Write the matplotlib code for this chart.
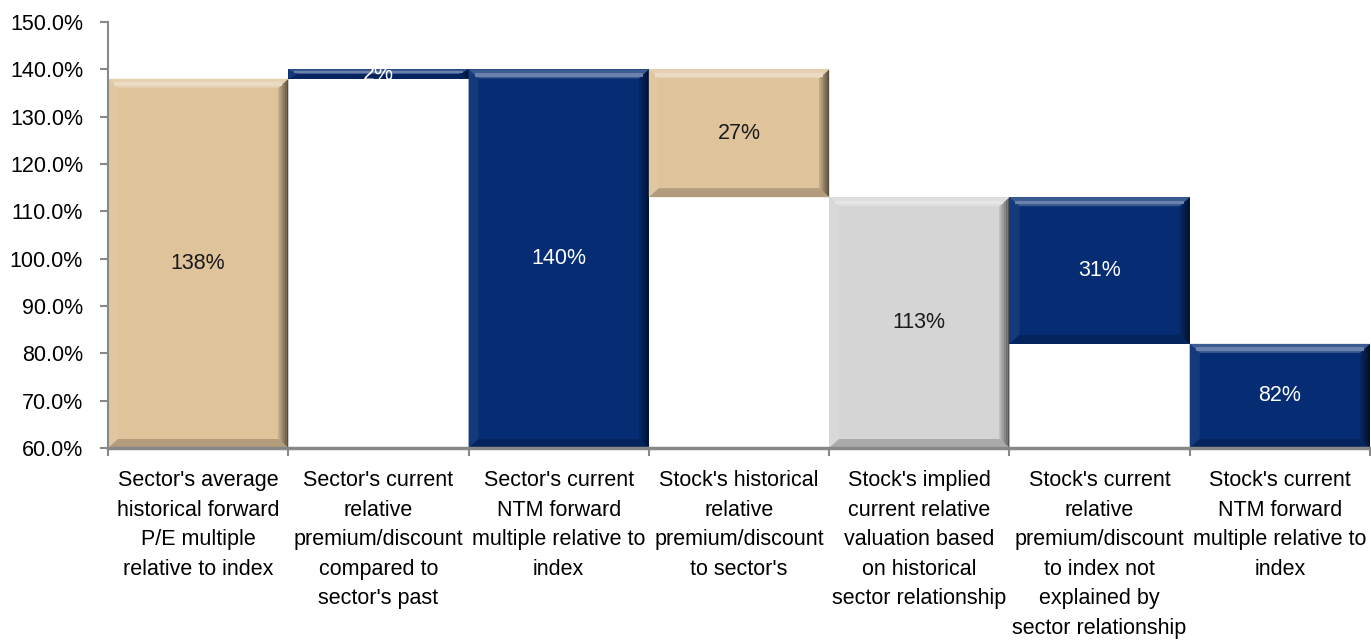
import matplotlib.pyplot as plt
import matplotlib.colors as mcolors
from matplotlib.patches import Polygon, Rectangle
import numpy as np

plt.rcParams['font.family'] = ['Liberation Sans', 'DejaVu Sans']

# data
categories = [
    "Sector's average\nhistorical forward\nP/E multiple\nrelative to index",
    "Sector's current\nrelative\npremium/discount\ncompared to\nsector's past",
    "Sector's current\nNTM forward\nmultiple relative to\nindex",
    "Stock's historical\nrelative\npremium/discount\nto sector's",
    "Stock's implied\ncurrent relative\nvaluation based\non historical\nsector relationship",
    "Stock's current\nrelative\npremium/discount\nto index not\nexplained by\nsector relationship",
    "Stock's current\nNTM forward\nmultiple relative to\nindex",
]
bar_bottom = [60, 138, 60, 113, 60, 82, 60]
bar_top = [138, 140, 140, 140, 113, 113, 82]
bar_labels = ["138%", "2%", "140%", "27%", "113%", "31%", "82%"]

TAN = '#DEC39B'
NAVY = '#062D74'
GREY = '#D5D5D5'
bar_colors = [TAN, NAVY, NAVY, TAN, GREY, NAVY, NAVY]
label_colors = ['#1a1a1a', 'white', 'white', '#1a1a1a', '#1a1a1a', 'white', 'white']

W, H = 1371, 644
fig = plt.figure(figsize=(W / 100, H / 100), dpi=100)
ax = fig.add_axes([108 / W, 1 - 448 / H, 1262 / W, 426 / H])
ax.set_xlim(-0.5, 6.5)
ax.set_ylim(60, 150)

# pixel -> data conversions for the bevel
px_x = 7 / 1262
px_y = 90 / 426


def blend(c, other, t):
    a = np.array(mcolors.to_rgb(c))
    b = np.array(mcolors.to_rgb(other))
    return tuple(a * (1 - t) + b * t)


def bevel_bar(x0, x1, y0, y1, color):
    ax.add_patch(Rectangle((x0, y0), x1 - x0, y1 - y0, facecolor=color, edgecolor='none', zorder=2))
    bx = 10 * px_x
    by = min(9 * px_y, (y1 - y0) / 2)
    top = [(x0, y1), (x1, y1), (x1 - bx, y1 - by), (x0 + bx, y1 - by)]
    bot = [(x0, y0), (x1, y0), (x1 - bx, y0 + by), (x0 + bx, y0 + by)]
    left = [(x0, y0), (x0, y1), (x0 + bx, y1 - by), (x0 + bx, y0 + by)]
    ax.add_patch(Polygon(left, closed=True, facecolor=blend(color, 'white', 0.06), edgecolor='none', zorder=3))
    # right edge as a small gradient
    n = 5
    for k in range(n):
        xa = x1 - bx + bx * k / n
        xb = x1 - bx + bx * (k + 1) / n
        ax.add_patch(Polygon([(xa, y0 + by * (1 - k / n)), (xa, y1 - by * (1 - k / n)),
                              (xb, y1 - by * (1 - (k + 1) / n)), (xb, y0 + by * (1 - (k + 1) / n))],
                             closed=True, facecolor=blend(color, 'black', 0.15 + 0.45 * k / (n - 1)),
                             edgecolor='none', zorder=3))
    ax.add_patch(Polygon(bot, closed=True, facecolor=blend(color, 'black', 0.2), edgecolor='none', zorder=3))
    ax.add_patch(Polygon(top, closed=True, facecolor=blend(color, 'white', 0.22), edgecolor='none', zorder=3))
    # highlight stripe in top band
    ax.add_patch(Rectangle((x0 + bx * 0.6, y1 - by * 0.8), x1 - x0 - 1.2 * bx, by * 0.4,
                           facecolor=blend(color, 'white', 0.4), edgecolor='none', zorder=3))


x = np.arange(len(categories))
for i in range(len(categories)):
    bevel_bar(x[i] - 0.5, x[i] + 0.5, bar_bottom[i], bar_top[i], bar_colors[i])
    mid = (bar_bottom[i] + bar_top[i]) / 2
    ax.text(x[i], mid, bar_labels[i], ha='center', va='center', fontsize=15.5,
            color=label_colors[i], zorder=5)

yt = np.arange(60, 151, 10)
ax.set_yticks(yt)
ax.set_yticklabels([f"{v:.1f}%" for v in yt], fontsize=15.5)
ax.set_xticks(x)
ax.set_xticklabels(categories, fontsize=15.5, linespacing=1.53)
ax.set_xticks(np.arange(-0.5, 7, 1), minor=True)
ax.tick_params(axis='x', which='major', length=0, pad=16)
ax.tick_params(axis='x', which='minor', length=6, color='#888888', width=1.5)
ax.tick_params(axis='y', length=6, color='#888888', width=1.5, pad=12)

for s in ['top', 'right']:
    ax.spines[s].set_visible(False)
ax.spines['left'].set_color('#888888')
ax.spines['left'].set_linewidth(1.5)
ax.spines['bottom'].set_color('#888888')
ax.spines['bottom'].set_linewidth(2.5)
ax.spines['left'].set_zorder(6)
ax.spines['bottom'].set_zorder(6)

fig.savefig('out.png', dpi=100)
